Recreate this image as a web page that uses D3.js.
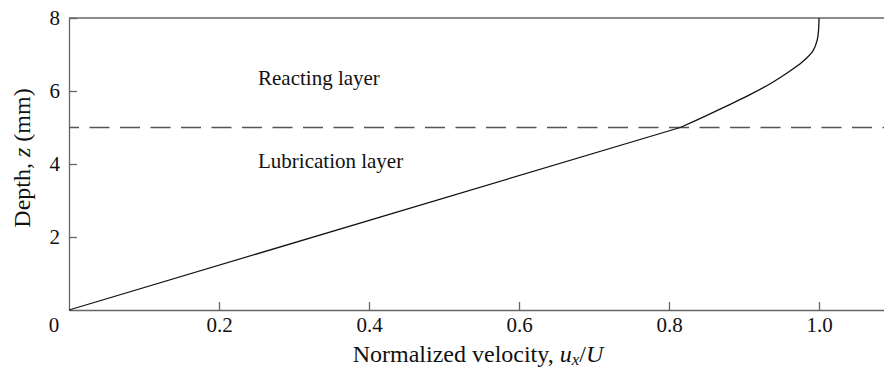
<!DOCTYPE html>
<html>
<head>
<meta charset="utf-8">
<script src="https://cdn.jsdelivr.net/npm/d3@7"></script>
<style>
  body { margin: 0; background: #fff; }
</style>
</head>
<body>
<div id="chart" style="width:884px;height:371px"></div>
<script>
// lower (lubrication) layer: straight shear profile
const lubVelocity = [0, 0.815];
const lubDepth    = [0, 5.0];
// upper (reacting) layer profile
const reactVelocity = [0.815, 0.847, 0.878, 0.908, 0.935, 0.958, 0.978, 0.992, 0.9977, 0.9995, 1.0];
const reactDepth    = [5.0,   5.3,   5.6,   5.9,   6.2,   6.5,   6.8,   7.1,   7.4,    7.7,    8.0];
const xTicks = [0.2, 0.4, 0.6, 0.8, 1.0];
const yTicks = [2, 4, 6, 8];
const interfaceDepth = 5;
const layerLabels = ["Reacting layer", "Lubrication layer"];
const layerLabelDepth = [6.16, 3.89];

const serif = "'Liberation Serif', 'Times New Roman', Times, serif";

const margin = {top: 18, right: 0, bottom: 61, left: 69};
const width = 884 - margin.left - margin.right;
const height = 371 - margin.top - margin.bottom;

const svg = d3.select("#chart").append("svg")
  .attr("width", 884)
  .attr("height", 371)
  .style("font-family", serif);

const chart = svg.append("g")
  .attr("transform", "translate(" + margin.left + "," + margin.top + ")");

const x = d3.scaleLinear().domain([0, width / 750]).range([0, width]);
const y = d3.scaleLinear().domain([0, 8]).range([height, 0]);

const axisColor = "#666";

const yaxis = d3.axisLeft(y).tickValues(yTicks).tickFormat(d3.format("d"))
  .tickSizeInner(-8).tickSizeOuter(0).tickPadding(9);
const xaxis = d3.axisBottom(x).tickValues(xTicks).tickFormat(d3.format(".1f"))
  .tickSizeInner(-8).tickSizeOuter(0).tickPadding(7);

const gy = chart.append("g").call(yaxis);
const gx = chart.append("g").attr("transform", "translate(0," + height + ")").call(xaxis);

[gx, gy].forEach(g => {
  g.attr("font-family", null).attr("font-size", null);
  g.selectAll("path, line").attr("stroke", axisColor).attr("stroke-width", 1.3);
  g.selectAll("text").style("font-family", serif).attr("font-size", 21).attr("fill", "#111");
});

// top border
chart.append("line")
  .attr("x1", 0).attr("x2", width).attr("y1", y(8)).attr("y2", y(8))
  .attr("stroke", axisColor).attr("stroke-width", 1.3);

// shared origin label
chart.append("text")
  .attr("x", -15).attr("y", height + 22)
  .attr("text-anchor", "middle").attr("font-size", 21).attr("fill", "#111")
  .text("0");

// interface between layers
chart.append("line")
  .attr("x1", 0).attr("x2", width)
  .attr("y1", y(interfaceDepth)).attr("y2", y(interfaceDepth))
  .attr("stroke", "#555").attr("stroke-width", 1.3)
  .attr("stroke-dasharray", "20,10.5").attr("stroke-dashoffset", 10);

const line = d3.line().x(d => x(d[0])).y(d => y(d[1]));

chart.append("path")
  .datum(lubVelocity.map((v, i) => [v, lubDepth[i]]))
  .attr("d", line)
  .attr("fill", "none").attr("stroke", "#111").attr("stroke-width", 1.3);

chart.append("path")
  .datum(reactVelocity.map((v, i) => [v, reactDepth[i]]))
  .attr("d", line.curve(d3.curveCatmullRom.alpha(0.5)))
  .attr("fill", "none").attr("stroke", "#111").attr("stroke-width", 1.3);

chart.selectAll(".layer")
  .data(layerLabels)
  .join("text").attr("class", "layer")
  .attr("x", 189)
  .attr("y", (d, i) => y(layerLabelDepth[i]))
  .attr("font-size", 21).attr("fill", "#111")
  .text(d => d);

// axis titles
const xt = svg.append("text")
  .attr("x", 478).attr("y", 362)
  .attr("text-anchor", "middle").attr("font-size", 24).attr("fill", "#111");
xt.append("tspan").text("Normalized velocity, ");
xt.append("tspan").attr("font-style", "italic").text("u");
xt.append("tspan").attr("font-style", "italic").attr("font-size", 17).attr("dy", 3).text("x");
xt.append("tspan").attr("dy", -3).text("/");
xt.append("tspan").attr("font-style", "italic").text("U");

const yt = svg.append("text")
  .attr("transform", "translate(30,158) rotate(-90)")
  .attr("text-anchor", "middle").attr("font-size", 24).attr("fill", "#111");
yt.append("tspan").text("Depth, ");
yt.append("tspan").attr("font-style", "italic").text("z");
yt.append("tspan").text(" (mm)");
</script>
</body>
</html>
